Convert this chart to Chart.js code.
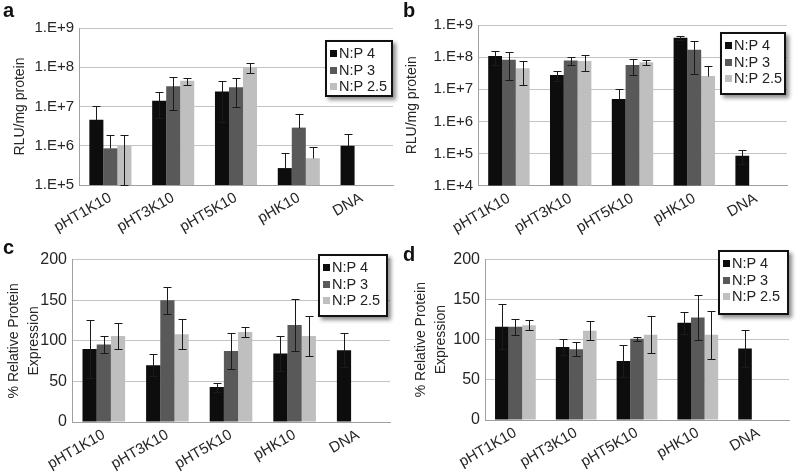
<!DOCTYPE html>
<html>
<head>
<meta charset="utf-8">
<script src="https://cdn.jsdelivr.net/npm/chart.js@4.4.1/dist/chart.umd.min.js"></script>
<style>
body{margin:0;background:#fff;width:800px;height:474px;position:relative;overflow:hidden;font-family:"Liberation Sans",Arial,sans-serif}
.pan{position:absolute;width:400px;height:237px}
.tag{position:absolute;font-weight:bold;font-size:20px;line-height:20px;color:#111}
.leg{position:absolute;box-sizing:border-box;background:#fff;border:2px solid #111;box-shadow:3px 3px 4px rgba(0,0,0,.45);font-size:14.5px;color:#222;line-height:16.5px;padding:3px 0 0 3px;white-space:nowrap}
.leg i{display:inline-block;width:7px;height:7px;margin-right:2px;vertical-align:1px}
</style>
</head>
<body>
<div class="pan" style="left:0;top:0"><canvas id="cA" width="400" height="237"></canvas></div>
<div class="pan" style="left:400px;top:0"><canvas id="cB" width="400" height="237"></canvas></div>
<div class="pan" style="left:0;top:237px"><canvas id="cC" width="400" height="237"></canvas></div>
<div class="pan" style="left:400px;top:237px"><canvas id="cD" width="400" height="237"></canvas></div>
<div class="tag" style="left:3px;top:0">a</div>
<div class="tag" style="left:403px;top:0">b</div>
<div class="tag" style="left:3px;top:237px">c</div>
<div class="tag" style="left:403px;top:244px">d</div>
<div class="leg" id="lA" style="left:325px;top:40px;width:68px;height:57px"></div>
<div class="leg" id="lB" style="left:720px;top:32px;width:66px;height:63px"></div>
<div class="leg" id="lC" style="left:318px;top:254px;width:70px;height:63px"></div>
<div class="leg" id="lD" style="left:718px;top:250px;width:71px;height:65px"></div>
<script>
// categories and series
const categories = ['pHT1K10', 'pHT3K10', 'pHT5K10', 'pHK10', 'DNA'];
const seriesNames = ['N:P 4', 'N:P 3', 'N:P 2.5'];
const barColors = ['#0d0d0d', '#595959', '#bfbfbf'];

// panel a  (RLU/mg protein, log)
const aNP4 = [4.6e6, 1.4e7, 2.4e7, 2.7e5, 1.0e6];
const aNP3 = [8.6e5, 3.3e7, 3.1e7, 2.9e6, null];
const aNP25 = [1.0e6, 4.5e7, 1.0e8, 4.8e5, null];
const aErr4 = [6e6, 9e6, 2e7, 3.7e5, 9.6e5];
const aErr3 = [1.0e6, 2.5e7, 2.1e7, 3.4e6, null];
const aErr25 = [9e5, 9e6, 3e7, 4.7e5, null];
const aTickVals = [1e5, 1e6, 1e7, 1e8, 1e9];
const aTickText = ['1.E+5', '1.E+6', '1.E+7', '1.E+8', '1.E+9'];

// panel b  (RLU/mg protein, log)
const bNP4 = [1.08e8, 2.8e7, 5.0e6, 4.0e8, 8.6e4];
const bNP3 = [8.3e7, 7.8e7, 5.7e7, 1.7e8, null];
const bNP25 = [4.5e7, 7.6e7, 6.9e7, 2.6e7, null];
const bErr4 = [5e7, 1e7, 5.5e6, 6e7, 4e4];
const bErr3 = [6.4e7, 2e7, 2.9e7, 1.4e8, null];
const bErr25 = [3.1e7, 3.8e7, 1.4e7, 2.6e7, null];
const bTickVals = [1e4, 1e5, 1e6, 1e7, 1e8, 1e9];
const bTickText = ['1.E+4', '1.E+5', '1.E+6', '1.E+7', '1.E+8', '1.E+9'];

// panel c  (% relative protein expression)
const cNP4 = [90, 70, 43, 84.5, 88.5];
const cNP3 = [95.5, 150, 87.5, 119.5, null];
const cNP25 = [106, 108, 111, 106, null];
const cErr4 = [36, 13.5, 5.5, 21.5, 21];
const cErr3 = [10, 16.5, 22.5, 32, null];
const cErr25 = [16.5, 18.5, 6.5, 24.5, null];

// panel d
const dNP4 = [116, 91, 73.5, 121, 89];
const dNP3 = [116, 88, 101, 127.5, null];
const dNP25 = [118, 111, 106, 106, null];
const dErr4 = [28, 10, 20, 13.5, 23.5];
const dErr3 = [10, 8.5, 2.5, 27.5, null];
const dErr25 = [6, 12, 23, 29.7, null];

const FONT = '"Liberation Sans", Arial, sans-serif';
const TXT = '#262626';

// error bars drawn on top of the bars
const errBars = {
  id: 'errBars',
  afterDatasetsDraw(chart, args, opts) {
    const ctx = chart.ctx, ys = chart.scales.y;
    ctx.save();
    ctx.strokeStyle = '#1a1a1a';
    ctx.lineWidth = 1;
    chart.data.datasets.forEach((ds, i) => {
      const meta = chart.getDatasetMeta(i);
      meta.data.forEach((bar, j) => {
        const v = ds.data[j], e = opts.errs[i][j];
        if (v == null || e == null) return;
        const x = Math.round(bar.x) + 0.5;
        const top = Math.round(ys.getPixelForValue(v + e)) + 0.5;
        // lower whisker only when it stays inside the axis range
        const hasLow = v - e > 0 && v - e >= ys.min;
        const bot = Math.round(ys.getPixelForValue(hasLow ? v - e : v)) + 0.5;
        ctx.beginPath();
        ctx.moveTo(x, top); ctx.lineTo(x, bot);
        ctx.moveTo(x - 4, top); ctx.lineTo(x + 4, top);
        if (hasLow) { ctx.moveTo(x - 4, bot); ctx.lineTo(x + 4, bot); }
        ctx.stroke();
      });
    });
    ctx.restore();
  }
};

function panel(id, series, errs, yCfg, box) {
  const datasets = series.map((d, i) => ({
    label: seriesNames[i],
    data: d,
    backgroundColor: barColors[i],
    borderWidth: 0,
    categoryPercentage: 0.67,
    barPercentage: 1.0
  }));
  yCfg.afterFit = s => { s.width = box.left; };
  yCfg.grid = { color: '#c4c4c4', drawTicks: false };
  yCfg.border = { color: '#a0a0a0' };
  yCfg.ticks = Object.assign({ color: TXT, padding: 5, font: { family: FONT, size: box.tick } }, yCfg.ticks);
  return new Chart(document.getElementById(id), {
    type: 'bar',
    data: { labels: categories, datasets: datasets },
    plugins: [errBars],
    options: {
      responsive: false,
      animation: false,
      layout: { padding: { top: box.top, right: 400 - box.right, left: 0, bottom: 0 } },
      plugins: {
        legend: { display: false },
        tooltip: { enabled: false },
        errBars: { errs: errs }
      },
      scales: {
        x: {
          afterFit: s => { s.height = 237 - box.bottom; },
          grid: { display: false, drawTicks: false },
          border: { color: '#a0a0a0' },
          ticks: { color: TXT, padding: 4, minRotation: 30, maxRotation: 30, font: { family: FONT, size: 15 } }
        },
        y: yCfg
      }
    }
  });
}

function logAxis(min, max, vals, text, titleText, pad) {
  return {
    type: 'logarithmic', min: min, max: max,
    afterBuildTicks: s => { s.ticks = vals.map(v => ({ value: v })); },
    ticks: { callback: (v, i) => text[i] },
    title: { display: true, text: titleText, color: TXT, font: { family: FONT, size: 14 }, padding: { top: pad, bottom: 0 } }
  };
}

function pctAxis(pad) {
  return {
    min: 0, max: 200,
    ticks: { stepSize: 50 },
    title: { display: true, text: ['% Relative Protein', 'Expression'], color: TXT,
      font: { family: FONT, size: 14, lineHeight: 1.43 }, padding: { top: pad, bottom: 0 } }
  };
}

panel('cA', [aNP4, aNP3, aNP25], [aErr4, aErr3, aErr25],
  logAxis(1e5, 1e9, aTickVals, aTickText, 'RLU/mg protein', 11.6),
  { left: 79, right: 393, top: 28, bottom: 185, tick: 15 });
panel('cB', [bNP4, bNP3, bNP25], [bErr4, bErr3, bErr25],
  logAxis(1e4, 1e9, bTickVals, bTickText, 'RLU/mg protein', 3.6),
  { left: 78, right: 387, top: 25, bottom: 185.7, tick: 15 });
panel('cC', [cNP4, cNP3, cNP25], [cErr4, cErr3, cErr25],
  pctAxis(4), { left: 72, right: 390, top: 22.7, bottom: 185, tick: 16 });
panel('cD', [dNP4, dNP3, dNP25], [dErr4, dErr3, dErr25],
  pctAxis(10.7), { left: 85, right: 389, top: 22.3, bottom: 183, tick: 16 });

// boxed legends
['lA', 'lB', 'lC', 'lD'].forEach(id => {
  const el = document.getElementById(id);
  el.innerHTML = seriesNames.map((n, i) =>
    '<div><i style="background:' + barColors[i] + '"></i>' + n + '</div>').join('');
});
</script>
</body>
</html>
